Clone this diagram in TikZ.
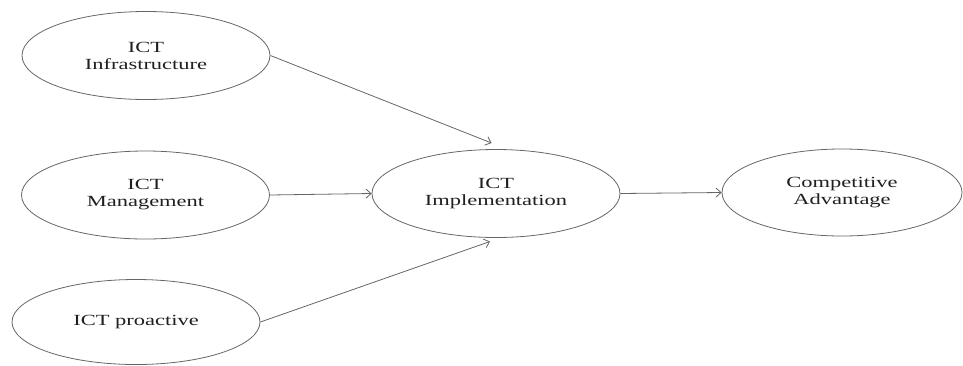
\documentclass[tikz,border=0pt]{standalone}
\usepackage{fontspec}
\setmainfont{Liberation Serif}
\newfontfamily\widefont[FakeStretch=1.45]{Liberation Serif}
\usetikzlibrary{shapes.geometric,arrows.meta}
\begin{document}
\begin{tikzpicture}[x=1pt,y=-1pt,
  oval/.style={ellipse, draw=black!60, line width=0.8pt, inner sep=0pt,
    minimum width=248pt, minimum height=88pt, align=center, text=black!88,
    font=\widefont\fontsize{15.5}{17}\selectfont},
  conn/.style={draw=black!60, line width=0.8pt, -{Straight Barb[length=5pt,width=9pt]}}]
\useasboundingbox (0,0) rectangle (963,365);
\node[oval] (inf) at (146,55.5) {ICT\\Infrastructure};
\node[oval] (man) at (145.5,195) {ICT\\Management};
\node[oval, minimum height=85pt] (pro) at (136,322) {ICT proactive};
\node[oval] (imp) at (496,193.5) {ICT\\Implementation};
\node[oval, minimum width=240pt, minimum height=87pt] (com) at (842,192.5) {Competitive\\Advantage};
\coordinate (t1) at (491.5,143);
\coordinate (t3) at (490,241.5);
\draw[conn] (inf.east) -- (t1);
\draw[conn] (man.east) -- (imp.west);
\draw[conn] (pro.east) -- (t3);
\draw[conn] (imp.east) -- (com.west);
\end{tikzpicture}
\end{document}
